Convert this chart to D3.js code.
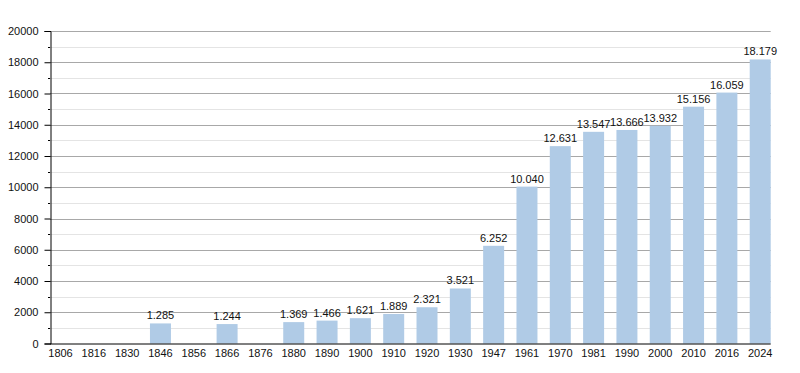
<!DOCTYPE html>
<html>
<head>
<meta charset="utf-8">
<script src="https://cdn.jsdelivr.net/npm/d3@7"></script>
<style>
  body { margin: 0; background: #fff; }
  text { font-family: "Liberation Sans", Arial, sans-serif; }
</style>
</head>
<body>
<div id="chart"></div>
<script>
// data
const years = ["1806","1816","1830","1846","1856","1866","1876","1880","1890","1900","1910","1920","1930","1947","1961","1970","1981","1990","2000","2010","2016","2024"];
const population = [null,null,null,1285,null,1244,null,1369,1466,1621,1889,2321,3521,6252,10040,12631,13547,13666,13932,15156,16059,18179];
const yTicks = [0,2000,4000,6000,8000,10000,12000,14000,16000,18000,20000];

const width = 800, height = 373;
const plotLeft = 50, plotRight = 770.7, plotTop = 31, plotBottom = 343.5;

const svg = d3.select("#chart").append("svg")
    .attr("width", width)
    .attr("height", height);

const x = d3.scaleBand().domain(years).range([plotLeft, plotRight]).paddingInner(0.37).paddingOuter(0);
const y = d3.scaleLinear().domain([0, 20000]).range([plotBottom, plotTop]);

const it = d3.formatLocale({decimal: ",", thousands: ".", grouping: [3], currency: ["", "€"]});
const fmt = it.format(",d");

// grid lines, minor first
const minor = d3.range(1000, 20000, 2000);
svg.append("g").selectAll("line").data(minor).join("line")
    .attr("x1", plotLeft).attr("x2", plotRight)
    .attr("y1", d => Math.round(y(d)) + 0.5).attr("y2", d => Math.round(y(d)) + 0.5)
    .attr("stroke", "#e4e4e4");
svg.append("g").selectAll("line").data(yTicks.slice(1)).join("line")
    .attr("x1", plotLeft).attr("x2", plotRight)
    .attr("y1", d => Math.round(y(d)) + 0.5).attr("y2", d => Math.round(y(d)) + 0.5)
    .attr("stroke", "#a8a8a8");

// bars
const rows = years.map((d, i) => ({year: d, value: population[i]})).filter(d => d.value != null);
svg.append("g").selectAll("rect").data(rows).join("rect")
    .attr("x", d => x(d.year))
    .attr("y", d => y(d.value))
    .attr("width", x.bandwidth())
    .attr("height", d => y(0) - y(d.value))
    .attr("fill", "#b0cbe6");

svg.append("g").selectAll("text").data(rows).join("text")
    .attr("x", d => x(d.year) + x.bandwidth() / 2)
    .attr("y", d => y(d.value) - 4)
    .attr("text-anchor", "middle")
    .attr("font-size", 11)
    .attr("fill", "#111")
    .text(d => fmt(d.value));

// y axis
const yAxis = d3.axisLeft(y).tickValues(yTicks).tickSize(6).tickFormat(d => d);
const gy = svg.append("g").attr("transform", `translate(${plotLeft + 0.5},0)`).call(yAxis);
gy.select(".domain").attr("stroke", "#000");
gy.selectAll(".tick line").attr("stroke", "#000");
gy.selectAll(".tick text").attr("font-size", 11).attr("fill", "#111")
    .attr("font-family", "Liberation Sans, Arial, sans-serif").attr("x", -12);
svg.append("g").selectAll("line").data(minor).join("line")
    .attr("x1", plotLeft - 2).attr("x2", plotLeft)
    .attr("y1", d => Math.round(y(d)) + 0.5).attr("y2", d => Math.round(y(d)) + 0.5)
    .attr("stroke", "#000");

// x axis
const xAxis = d3.axisBottom(x).tickSize(0).tickPadding(6);
const gx = svg.append("g").attr("transform", `translate(0,${plotBottom})`).call(xAxis);
gx.select(".domain").attr("d", `M${plotLeft},0.5H${plotRight}`).attr("stroke", "#000");
gx.selectAll(".tick text").attr("font-size", 11).attr("fill", "#111")
    .attr("font-family", "Liberation Sans, Arial, sans-serif");
</script>
</body>
</html>
